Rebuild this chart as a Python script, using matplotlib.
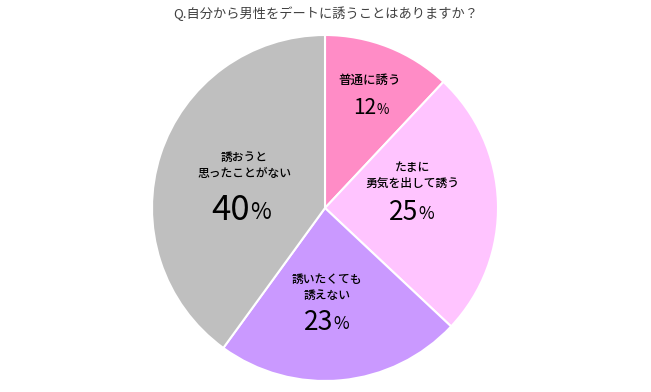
import matplotlib.pyplot as plt

plt.rcParams['font.family'] = ['Noto Sans CJK JP', 'DejaVu Sans']

# Data
title = "Q.自分から男性をデートに誘うことはありますか？"
labels = ["普通に誘う", "たまに\n勇気を出して誘う", "誘いたくても\n誘えない", "誘おうと\n思ったことがない"]
values = [12, 25, 23, 40]

# Styles
colors = ["#FF8CC6", "#FFC4FF", "#CA99FF", "#BFBFBF"]
# label anchor (pixels), label size, pct size, gap label->pct (pixels)
label_px = [(370, 80), (412, 175), (327, 287), (244, 165)]
label_size = [9, 8.5, 8.5, 8.5]
pct_size = [15, 19, 19, 25]
pct_dy = [28, 37, 35, 45]

W, H = 651, 392
cx, cy, r = 325, 208, 173

fig = plt.figure(figsize=(W / 100, H / 100), dpi=100)
ax = fig.add_axes([(cx - r) / W, (H - cy - r) / H, 2 * r / W, 2 * r / H])
ax.pie(values, colors=colors, startangle=90, counterclock=False, radius=1,
       wedgeprops=dict(edgecolor="white", linewidth=1.5))
ax.set_xlim(-1, 1)
ax.set_ylim(-1, 1)
ax.set_aspect("equal")
ax.axis("off")


def to_data(px, py):
    return (px - cx) / r, (cy - py) / r


for lab, v, (px, py), ls, ps, dy in zip(labels, values, label_px, label_size, pct_size, pct_dy):
    x, y = to_data(px, py)
    ax.text(x, y, lab, ha="center", va="center", fontsize=ls, color="black",
            linespacing=1.3, fontweight="medium")
    # number and smaller percent sign
    xp, yp = to_data(px, py + dy)
    ax.text(xp + 0.035, yp, str(v), ha="right", va="center", fontsize=ps, color="black")
    ax.text(xp + 0.037, yp - 0.012, "%", ha="left", va="center", fontsize=ps * 0.65, color="black")

fig.text(0.5, 1 - 14 / H, title, ha="center", va="center", fontsize=9.5, color="#404040")

fig.savefig("out.png", dpi=100, facecolor="white")
